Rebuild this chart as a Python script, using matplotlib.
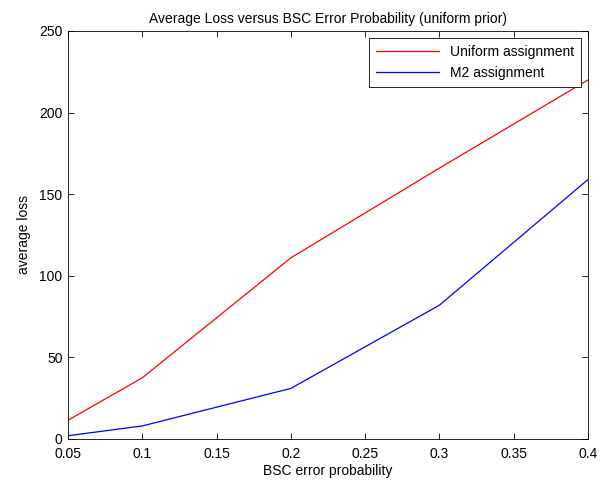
import matplotlib
matplotlib.use("Agg")
import matplotlib.pyplot as plt

x = [0.05, 0.1, 0.2, 0.3, 0.4]
uniform_loss = [11.5, 37.5, 111, 166, 220]
m2_loss = [2, 8, 31, 82, 159]
xticks = [0.05, 0.1, 0.15, 0.2, 0.25, 0.3, 0.35, 0.4]
yticks = [0, 50, 100, 150, 200, 250]

plt.rcParams['font.family'] = ['Liberation Sans', 'DejaVu Sans']

fig = plt.figure(figsize=(6.12, 4.87), dpi=100)
ax = fig.add_axes([68/612, 48/487, 520/612, 408/487])
ax.plot(x, uniform_loss, color='#ff0000', lw=0.9, label='Uniform assignment')
ax.plot(x, m2_loss, color='#0000ff', lw=0.9, label='M2 assignment')
ax.set_xlim(0.05, 0.4)
ax.set_ylim(0, 250)
ax.set_xticks(xticks)
ax.set_xticklabels(['0.05', '0.1', '0.15', '0.2', '0.25', '0.3', '0.35', '0.4'])
ax.set_yticks(yticks)
ax.tick_params(direction='in', top=True, right=True, labelsize=10, length=4, width=0.6)
ax.tick_params(axis='x', pad=6)
ax.tick_params(axis='y', pad=4)
for s in ax.spines.values():
    s.set_linewidth(0.6)
ax.set_title('Average Loss versus BSC Error Probability (uniform prior)', fontsize=10, pad=6)
ax.set_xlabel('BSC error probability', fontsize=10, labelpad=2)
ax.set_ylabel('average loss', fontsize=10, labelpad=6)
leg = ax.legend(loc='upper right', fontsize=10, fancybox=False, edgecolor='black',
                framealpha=1, borderaxespad=0.5, handlelength=4.5, labelspacing=0.5,
                borderpad=0.5)
leg.get_frame().set_linewidth(0.6)
fig.savefig('out.png', dpi=100)
